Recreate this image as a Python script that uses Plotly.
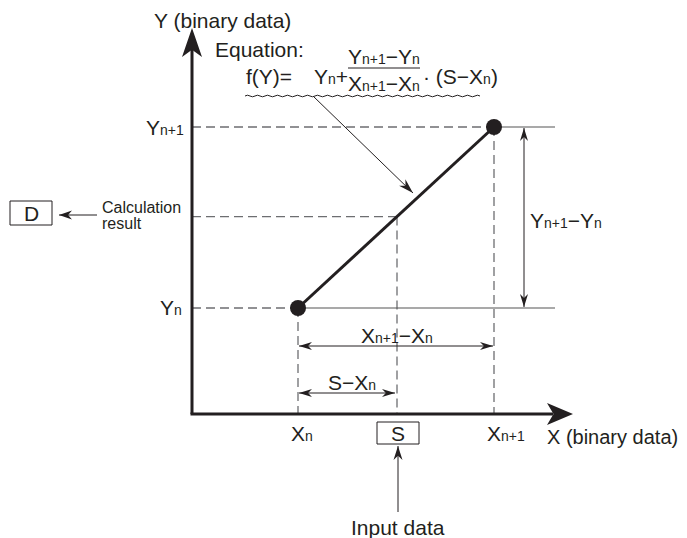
import numpy as np
import plotly.graph_objects as go

# Diagram values (data units, origin at the axes corner)
x_points = [106, 302]            # X(n), X(n+1)
y_points = [106, 287]            # Y(n), Y(n+1)
x_input = 205                    # S
axis_end = [381, 386]            # x axis tip, y axis tip
extend_to = 363                  # right end of the solid level lines

# interpolated output for S
y_result = y_points[0] + (y_points[1] - y_points[0]) / (x_points[1] - x_points[0]) * (x_input - x_points[0])

FONT = "Liberation Sans, Arial, sans-serif"
DARK = "#231f20"
GREY = "#6d6e71"


def sub(s):
    return f'<span style="font-size:14px">{s}</span>'


def head(tip, tail, length, width, notch=0.3):
    """barbed arrow head as svg path, tip/tail in data units (1 unit = 1 px)"""
    tip = np.array(tip, float)
    tail = np.array(tail, float)
    u = (tip - tail) / np.linalg.norm(tip - tail)
    n = np.array([-u[1], u[0]])
    back = tip - u * length
    mid = tip - u * length * (1 - notch)
    l = back + n * width / 2
    r = back - n * width / 2
    pts = [tip, l, mid, r]
    return "M" + " L".join(f"{p[0]:.1f},{p[1]:.1f}" for p in pts) + " Z"


fig = go.Figure()
shapes = []
annotations = []


def line(xs, ys, color=DARK, width=1, dash="solid"):
    fig.add_trace(go.Scatter(x=xs, y=ys, mode="lines", hoverinfo="skip",
                             line=dict(color=color, width=width, dash=dash)))


def arrow(tail, tip, length=13, width=8, lw=1, both=False):
    line([tail[0], tip[0]], [tail[1], tip[1]], width=lw)
    shapes.append(dict(type="path", path=head(tip, tail, length, width), xref="x", yref="y",
                       fillcolor=DARK, line=dict(width=0)))
    if both:
        shapes.append(dict(type="path", path=head(tail, tip, length, width), xref="x", yref="y",
                           fillcolor=DARK, line=dict(width=0)))


def text(x, y, s, size=21, anchor="center"):
    annotations.append(dict(x=x, y=y, text=s, showarrow=False, xanchor=anchor, yanchor="middle",
                            font=dict(family=FONT, size=size, color=DARK)))


dash = "9px,5px"
# dashed guide lines
line([0, x_points[1]], [y_points[1]] * 2, GREY, 1.3, dash)
line([0, x_points[0]], [y_points[0]] * 2, GREY, 1.3, dash)
line([0, x_input], [y_result] * 2, GREY, 1.3, dash)
line([x_points[0]] * 2, [y_points[0], 0], GREY, 1.3, dash)
line([x_points[1]] * 2, [y_points[1], 0], GREY, 1.3, dash)
line([x_input] * 2, [y_result, 0], GREY, 1.3, dash)

# solid level lines
line([x_points[1], extend_to], [y_points[1]] * 2, "#555555", 1.2)
line([x_points[0], extend_to], [y_points[0]] * 2, "#555555", 1.2)

# axes
line([-1.5, axis_end[0] - 20], [0, 0], DARK, 3)
line([0, 0], [0, axis_end[1] - 20], DARK, 3)
shapes.append(dict(type="path", path=head((axis_end[0], 0), (0, 0), 26, 22, 0.25),
                   xref="x", yref="y", fillcolor=DARK, line=dict(width=0)))
shapes.append(dict(type="path", path=head((0, axis_end[1]), (0, 0), 29, 20, 0.25),
                   xref="x", yref="y", fillcolor=DARK, line=dict(width=0)))

# interpolation segment
fig.add_trace(go.Scatter(x=x_points, y=y_points, mode="lines+markers", hoverinfo="skip",
                         line=dict(color=DARK, width=3),
                         marker=dict(color=DARK, size=16)))

# dimension arrows
arrow((332, y_points[0] + 1), (332, y_points[1] - 1), both=True)
arrow((x_points[0] + 1, 68), (x_points[1] - 1, 68), both=True)
arrow((x_points[0] + 1, 21), (x_input - 2, 21), both=True)

# equation pointer
arrow((121, 318), (221, 221), length=15, width=9)
# calculation result pointer
arrow((-95, 199), (-133, 199), length=13, width=9)
# input data pointer
arrow((x_input + 1, -98), (x_input + 1, -32), length=14, width=9)

# wavy underline under the equation
wave = "M53,318"
for i, x0 in enumerate(range(53, 288, 5)):
    dy = 1.6 if i % 2 == 0 else -1.6
    wave += f" Q{x0 + 2.5},{318 + dy} {x0 + 5},318"
shapes.append(dict(type="path", path=wave, xref="x", yref="y", line=dict(color=DARK, width=1)))

# fraction bar
line([156, 228], [346, 346], DARK, 1)

# boxes
shapes.append(dict(type="rect", x0=-182, x1=-140, y0=189, y1=213, xref="x", yref="y",
                   line=dict(color=DARK, width=1)))
shapes.append(dict(type="rect", x0=x_input - 20, x1=x_input + 22, y0=-30, y1=-8, xref="x", yref="y",
                   line=dict(color=DARK, width=1)))

# labels
text(-40, 394, "Y (binary data)", anchor="left")
text(21, 365, "Equation:", anchor="left")
text(52, 338, "f(Y)=", anchor="left")
text(120, 338, "Y" + sub("n") + "+", anchor="left")
text(192, 358, "Y" + sub("n+1") + "−Y" + sub("n"))
text(192, 331, "X" + sub("n+1") + "−X" + sub("n"))
text(229, 338, "· (S−X" + sub("n") + ")", anchor="left")
text(-6, y_points[1], "Y" + sub("n+1"), anchor="right")
text(-8, y_points[0] + 1, "Y" + sub("n"), anchor="right")
text(x_points[0] + 4, -19, "X" + sub("n"))
text(x_input + 1, -19, "S")
text(x_points[1] - 9, -19, "X" + sub("n+1"), anchor="left")
text(353, -23, "X (binary data)", size=20, anchor="left")
text(336, 194, "Y" + sub("n+1") + "−Y" + sub("n"), anchor="left")
text(205, 79, "X" + sub("n+1") + "−X" + sub("n"))
text(160, 32, "S−X" + sub("n"))
text(-161, 201, "D")
text(-92, 207, "Calculation", size=16, anchor="left")
text(-92, 191, "result", size=16, anchor="left")
text(x_input + 1, -113, "Input data")

# the page body has an 8px margin, so the figure is 8px smaller and the ranges start 8px in
fig.update_layout(
    width=679, height=530,
    margin=dict(l=0, r=0, t=0, b=0),
    paper_bgcolor="white", plot_bgcolor="white",
    showlegend=False,
    xaxis=dict(range=[-184, 495], visible=False, fixedrange=True),
    yaxis=dict(range=[-124, 406], visible=False, fixedrange=True),
    shapes=shapes,
    annotations=annotations,
)

fig.write_html("out.html")
